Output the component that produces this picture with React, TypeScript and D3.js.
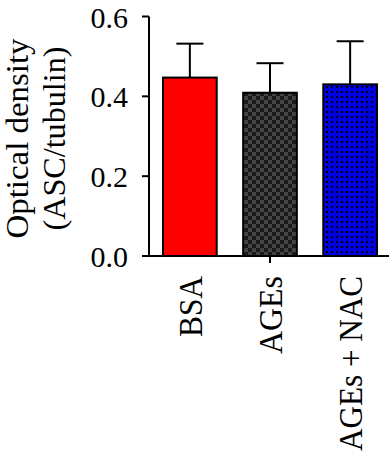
import React from "react";
import * as d3 from "d3";

const categories = ["BSA", "AGEs", "AGEs + NAC"];
const means = [0.447, 0.409, 0.43];
const errTops = [0.532, 0.483, 0.538];
const yTicks = [0, 0.2, 0.4, 0.6];
const fills = ["#ff0000", "url(#checker)", "url(#bluedots)"];
const labelLengths = [61, 78, 175];

const W = 389;
const H = 456;
const FONT = "'Liberation Serif', 'Times New Roman', serif";

export default function App() {
  const y = d3.scaleLinear().domain([0, 0.6]).range([256, 16.5]);
  const x = d3
    .scaleBand<string>()
    .domain(categories)
    .range([149, 391])
    .paddingInner(0.33)
    .paddingOuter(0.175);
  const bw = x.bandwidth();
  const axisX = 149;
  const baseY = y(0);

  return (
    <svg
      width={W}
      height={H}
      style={{ position: "absolute", left: 0, top: 0, background: "#fff" }}
      fontFamily={FONT}
    >
      <defs>
        <pattern id="checker" patternUnits="userSpaceOnUse" width={8} height={8}>
          <rect width={8} height={8} fill="#444444" />
          <rect x={0} y={0} width={4} height={4} fill="#1a1a1a" />
          <rect x={4} y={4} width={4} height={4} fill="#1a1a1a" />
        </pattern>
        <pattern id="bluedots" patternUnits="userSpaceOnUse" width={5} height={5}>
          <rect width={5} height={5} fill="#0000e6" />
          <rect x={1} y={1} width={2} height={2} fill="#000000" />
        </pattern>
      </defs>

      {/* bars */}
      {categories.map((c, i) => {
        const x0 = x(c)!;
        const cx = x0 + bw / 2;
        return (
          <g key={c}>
            <line
              x1={cx}
              x2={cx}
              y1={y(means[i])}
              y2={y(errTops[i])}
              stroke="#000"
              strokeWidth={2}
            />
            <line
              x1={cx - 13.5}
              x2={cx + 13.5}
              y1={y(errTops[i])}
              y2={y(errTops[i])}
              stroke="#000"
              strokeWidth={2}
            />
            <rect
              x={x0}
              y={y(means[i])}
              width={bw}
              height={baseY - y(means[i])}
              fill={fills[i]}
              stroke="#000"
              strokeWidth={2}
            />
          </g>
        );
      })}

      {/* y axis */}
      <line x1={axisX} x2={axisX} y1={y(0.6)} y2={baseY + 1} stroke="#000" strokeWidth={2} />
      {yTicks.map((t) => (
        <g key={t}>
          <line x1={axisX - 7} x2={axisX} y1={y(t)} y2={y(t)} stroke="#000" strokeWidth={2} />
          <text x={128} y={y(t) + 11} textAnchor="end" fontSize={30} fill="#000">
            {d3.format(".1f")(t)}
          </text>
        </g>
      ))}

      {/* x axis */}
      <line x1={axisX - 1} x2={W} y1={baseY} y2={baseY} stroke="#000" strokeWidth={2} />
      <line
        x1={x(categories[1])! + bw / 2}
        x2={x(categories[1])! + bw / 2}
        y1={baseY}
        y2={baseY + 7}
        stroke="#000"
        strokeWidth={2}
      />
      {categories.map((c, i) => {
        const cx = x(c)! + bw / 2;
        const tx = cx + 12;
        const ty = 276;
        return (
          <text
            key={c}
            transform={`translate(${tx},${ty}) rotate(-90)`}
            textAnchor="end"
            fontSize={33}
            fill="#000"
            textLength={labelLengths[i]}
            lengthAdjust="spacingAndGlyphs"
          >
            {c}
          </text>
        );
      })}

      {/* y title */}
      <text
        transform={`translate(28,138.5) rotate(-90)`}
        textAnchor="middle"
        fontSize={31}
        fill="#000"
        textLength={200}
        lengthAdjust="spacingAndGlyphs"
      >
        Optical density
      </text>
      <text
        transform={`translate(65,138.5) rotate(-90)`}
        textAnchor="middle"
        fontSize={31}
        fill="#000"
        textLength={184}
        lengthAdjust="spacingAndGlyphs"
      >
        (ASC/tubulin)
      </text>
    </svg>
  );
}
